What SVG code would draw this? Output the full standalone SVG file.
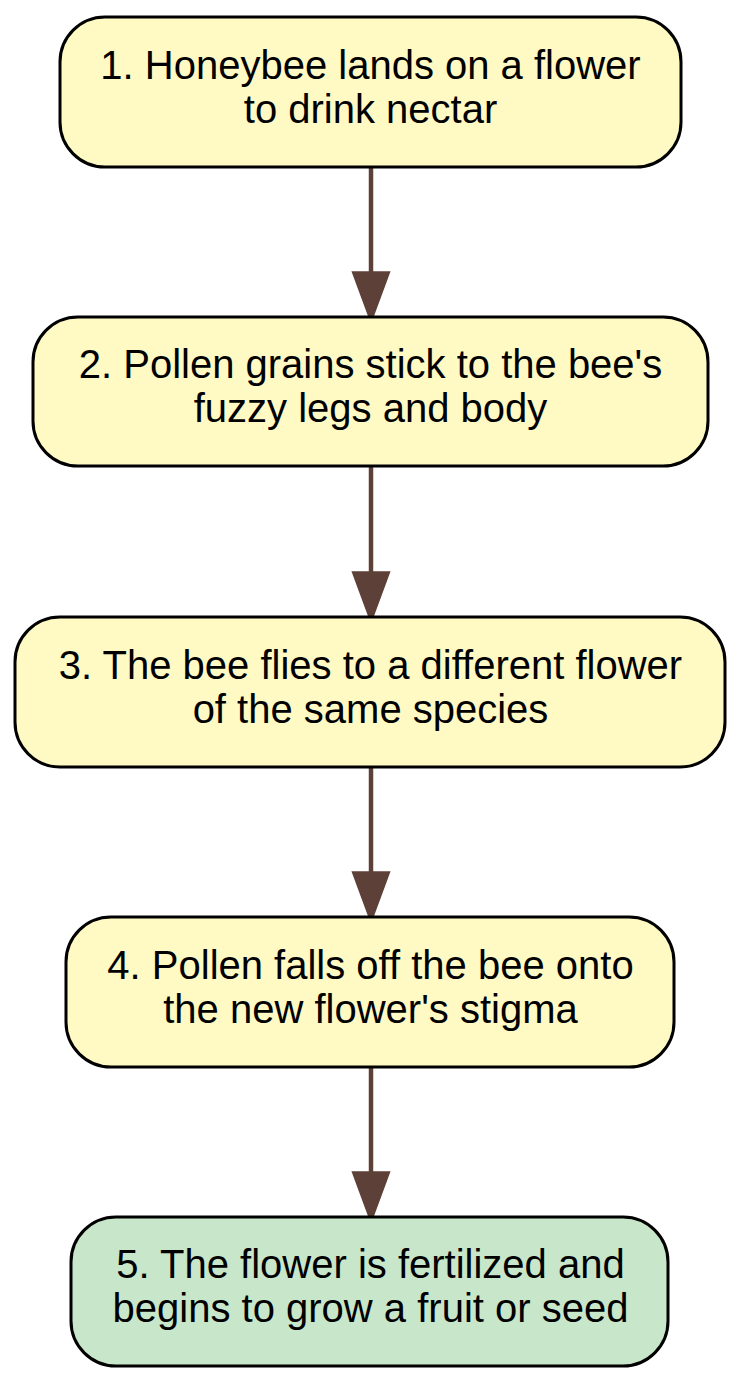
<svg xmlns="http://www.w3.org/2000/svg" width="742" height="1383" viewBox="0 0 742 1383">
<style>
.n rect{stroke:#000;stroke-width:3}
.y rect{fill:#FFF9C4}
.g rect{fill:#C8E6C9}
text{font-family:"Liberation Sans",Arial,sans-serif;font-size:40px;fill:#000;text-anchor:middle}
.e line{stroke:#5D4037;stroke-width:4.5}
.e polygon{fill:#5D4037;stroke:#5D4037;stroke-width:1.5}
</style>
<rect width="742" height="1383" fill="#fff"/>
<g class="e" id="edges">
<line x1="371" y1="167" x2="371" y2="273"/><polygon points="352.5,272 389.5,272 371,322"/>
<line x1="371" y1="466" x2="371" y2="573"/><polygon points="352.5,572 389.5,572 371,622"/>
<line x1="371" y1="767" x2="371" y2="873"/><polygon points="352.5,872 389.5,872 371,922"/>
<line x1="371" y1="1067" x2="371" y2="1173"/><polygon points="352.5,1172 389.5,1172 371,1222"/>
</g>
<g id="n1" class="n y"><rect x="60" y="17" width="621" height="150" rx="45"/><text x="370.5" y="79">1. Honeybee lands on a flower</text><text x="370.5" y="123">to drink nectar</text></g>
<g id="n2" class="n y"><rect x="33" y="317" width="675" height="149" rx="45"/><text x="370.5" y="378">2. Pollen grains stick to the bee's</text><text x="370.5" y="422">fuzzy legs and body</text></g>
<g id="n3" class="n y"><rect x="15" y="617" width="710" height="150" rx="45"/><text x="370.5" y="679">3. The bee flies to a different flower</text><text x="370.5" y="723">of the same species</text></g>
<g id="n4" class="n y"><rect x="66" y="917" width="608" height="150" rx="45"/><text x="370.5" y="979">4. Pollen falls off the bee onto</text><text x="370.5" y="1023">the new flower's stigma</text></g>
<g id="n5" class="n g"><rect x="71" y="1217" width="597" height="149" rx="45"/><text x="370.5" y="1278">5. The flower is fertilized and</text><text x="370.5" y="1322">begins to grow a fruit or seed</text></g>
</svg>
